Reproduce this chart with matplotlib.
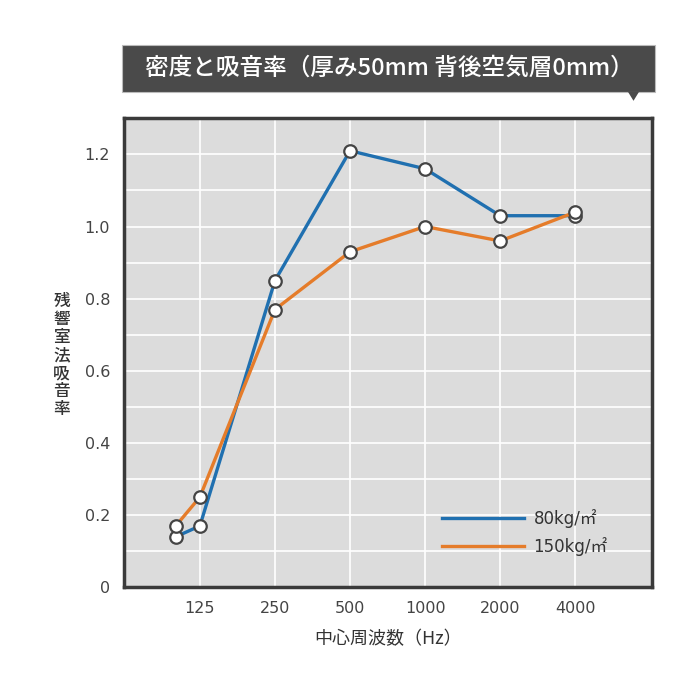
import matplotlib
matplotlib.use("Agg")
import matplotlib.pyplot as plt
from matplotlib.patches import Rectangle, Polygon

plt.rcParams['font.family'] = ['DejaVu Sans', 'Noto Sans CJK JP']
jp = ['Noto Sans CJK JP', 'DejaVu Sans']

# データ
freq = [100, 125, 250, 500, 1000, 2000, 4000]
kg80 = [0.14, 0.17, 0.85, 1.21, 1.16, 1.03, 1.03]
kg150 = [0.17, 0.25, 0.77, 0.93, 1.00, 0.96, 1.04]
xticks = [125, 250, 500, 1000, 2000, 4000]
yticks = [0, 0.2, 0.4, 0.6, 0.8, 1.0, 1.2]
ylabels = ['0', '0.2', '0.4', '0.6', '0.8', '1.0', '1.2']
names = ['80kg/㎡', '150kg/㎡']

fig = plt.figure(figsize=(7, 7), dpi=100)
ax = fig.add_axes([0.177, 0.161, 0.754, 0.670])
ax.set_facecolor('#dcdcdc')

mk = dict(marker='o', markersize=9, markerfacecolor='white',
          markeredgecolor='#444444', markeredgewidth=1.6)
ax.plot(freq, kg80, color='#2070b0', lw=2.4, label=names[0], **mk)
ax.plot(freq, kg150, color='#e57c2a', lw=2.4, label=names[1], **mk)

ax.set_xscale('log', base=2)
ax.set_xlim(62, 8100)
ax.set_ylim(0, 1.3)
ax.set_xticks(xticks)
ax.set_xticklabels([str(v) for v in xticks])
ax.minorticks_off()
ax.set_yticks(yticks)
ax.set_yticklabels(ylabels)
ax.set_yticks([i / 10 for i in range(1, 13, 2)], minor=True)
ax.grid(True, which='both', color='white', lw=1.2)
ax.set_axisbelow(True)
ax.tick_params(which='both', length=0, labelsize=11.5, colors='#444444', pad=10)
for s in ax.spines.values():
    s.set_color('#3a3a3a')
    s.set_linewidth(2.5)

ax.set_xlabel('中心周波数（Hz）', fontsize=13, color='#333333', labelpad=10,
              family=jp)
ax.set_ylabel('\n'.join('残響室法吸音率'), fontsize=12, color='#333333',
              rotation=0, va='center', ha='center', linespacing=1.0,
              family=jp, fontweight='medium')
ax.yaxis.set_label_coords(-0.118, 0.495)

leg = ax.legend(loc='lower right', bbox_to_anchor=(0.945, 0.035), frameon=False,
                handlelength=4.9, prop={'size': 12},
                labelspacing=0.55, handletextpad=0.6)
for h in leg.legend_handles:
    h.set_marker('')
for t in leg.get_texts():
    t.set_color('#333333')

# タイトルボックス
fig.patches.append(Rectangle((0.174, 0.869), 0.762, 0.067, transform=fig.transFigure,
                             facecolor='#4a4a4a', edgecolor='#bbbbbb', lw=0.8))
fig.patches.append(Polygon([(0.897, 0.869), (0.913, 0.869), (0.905, 0.856)],
                           closed=True, transform=fig.transFigure, facecolor='#4a4a4a'))
fig.text(0.556, 0.902, '密度と吸音率（厚み50mm 背後空気層0mm）', color='white',
         fontsize=17, ha='center', va='center', fontweight='medium', family=jp)

fig.savefig('out.png', dpi=100, facecolor='white')
